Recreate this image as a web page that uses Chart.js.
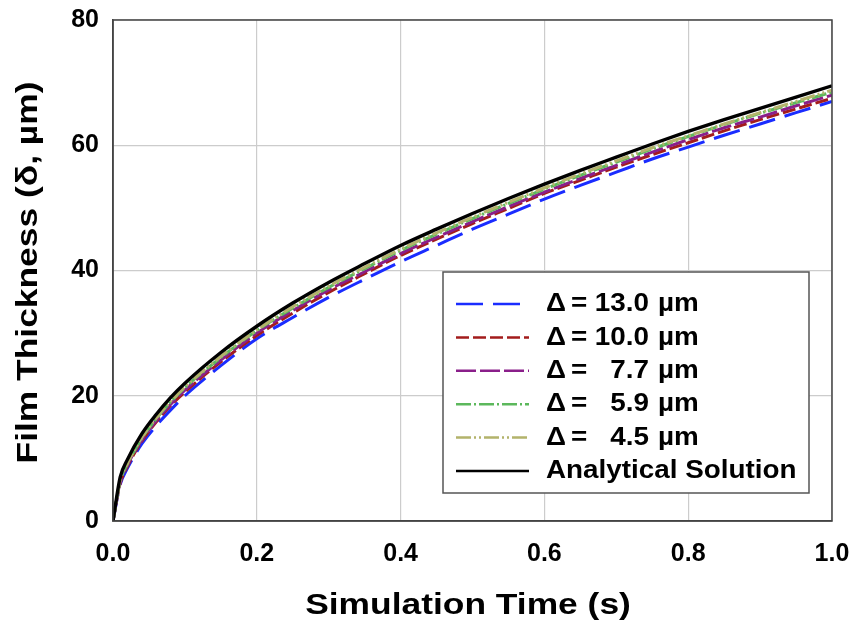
<!DOCTYPE html>
<html>
<head>
<meta charset="utf-8">
<script src="https://cdn.jsdelivr.net/npm/chart.js@4"></script>
<style>
  html, body { margin: 0; padding: 0; background: #fff; }
  #wrap { width: 852px; height: 626px; }
</style>
</head>
<body>
<div id="wrap"><canvas id="filmChart" width="852" height="626"></canvas></div>
<script>
// tempo di simulazione (s)
var times = [0, 0.01, 0.02, 0.04, 0.06, 0.08, 0.1, 0.15, 0.2, 0.25, 0.3, 0.35, 0.4, 0.45, 0.5, 0.55, 0.6, 0.65, 0.7, 0.75, 0.8, 0.85, 0.9, 0.95, 1.0];

// spessore del film (um)
var delta130 = [0, 5.8, 8.4, 12.3, 15.2, 17.7, 20.0, 24.8, 29.1, 32.5, 35.7, 38.6, 41.4, 44.0, 46.6, 49.0, 51.4, 53.6, 55.7, 57.8, 59.7, 61.6, 63.4, 65.2, 67.0];
var delta100 = [0, 6.0, 8.7, 12.7, 15.8, 18.4, 20.6, 25.4, 29.6, 33.2, 36.5, 39.5, 42.4, 45.0, 47.5, 49.9, 52.3, 54.4, 56.5, 58.5, 60.4, 62.3, 64.1, 65.8, 67.5];
var delta77 = [0, 6.2, 8.9, 12.9, 16.0, 18.6, 20.9, 25.7, 30.0, 33.6, 36.9, 39.8, 42.7, 45.3, 47.8, 50.2, 52.5, 54.7, 56.8, 58.9, 60.9, 62.8, 64.5, 66.3, 68.0];
var delta59 = [0, 6.4, 9.1, 13.2, 16.3, 19.0, 21.3, 26.1, 30.4, 34.0, 37.3, 40.3, 43.2, 45.8, 48.3, 50.7, 53.0, 55.2, 57.3, 59.4, 61.4, 63.3, 65.1, 66.8, 68.5];
var delta45 = [0, 6.5, 9.2, 13.3, 16.4, 19.1, 21.4, 26.3, 30.5, 34.2, 37.5, 40.5, 43.4, 46.0, 48.5, 50.9, 53.2, 55.4, 57.5, 59.6, 61.5, 63.4, 65.2, 67.0, 68.8];
var analytical = [0, 7.0, 9.8, 13.9, 17.0, 19.7, 22.0, 26.9, 31.1, 34.8, 38.1, 41.1, 44.0, 46.6, 49.1, 51.5, 53.8, 56.0, 58.1, 60.2, 62.2, 64.1, 65.9, 67.7, 69.5];

var xTicks = [0, 0.2, 0.4, 0.6, 0.8, 1.0];
var yTicks = [0, 20, 40, 60, 80];

var seriesNames = ["13.0", "10.0", "7.7", "5.9", "4.5", "Analytical Solution"];
var seriesColors = ["#1a2cff", "#a31c1c", "#8a1f8a", "#5cb85c", "#b3b36b", "#000000"];
var seriesDashes = [[27, 10], [13, 4], [20, 4], [15, 3, 2, 3], [15, 3, 2, 3, 2, 3], []];

var xTitle = "Simulation Time (s)";
var yTitle = "Film Thickness (\u03b4, \u00b5m)";

var font = "'Liberation Sans', Arial, sans-serif";

function toPoints(values) {
  return values.map((v, i) => ({ x: times[i], y: v }));
}

// testo un po' allargato come nell'originale
function wideText(ctx, text, x, y, stretch) {
  ctx.save();
  ctx.translate(x, y);
  ctx.scale(stretch, 1);
  ctx.fillText(text, 0, 0);
  ctx.restore();
}

// titoli degli assi, bordo e legenda dentro l'area del grafico
var boxedLegend = {
  id: "boxedLegend",
  afterDraw(chart) {
    let ctx = chart.ctx;
    let area = chart.chartArea;
    ctx.save();
    // bordo del grafico
    ctx.strokeStyle = "#444";
    ctx.lineWidth = 1.5;
    ctx.strokeRect(area.left, area.top, area.right - area.left, area.bottom - area.top);

    // titoli
    ctx.fillStyle = "#000";
    ctx.font = "bold 29px " + font;
    ctx.textAlign = "center";
    ctx.textBaseline = "middle";
    wideText(ctx, xTitle, 468, 606, 1.22);
    ctx.save();
    ctx.translate(29, (area.top + area.bottom) / 2 + 2);
    ctx.rotate(-Math.PI / 2);
    wideText(ctx, yTitle, 0, 0, 1.22);
    ctx.restore();

    // legenda
    let bx = 443, by = 272, bw = 366, bh = 221;
    ctx.fillStyle = "#fff";
    ctx.fillRect(bx, by, bw, bh);
    ctx.strokeStyle = "#555";
    ctx.lineWidth = 1.5;
    ctx.strokeRect(bx, by, bw, bh);

    ctx.font = "bold 26px " + font;
    ctx.textBaseline = "middle";
    for (let i = 0; i < seriesNames.length; i++) {
      let y = 304 + i * 33.4;
      ctx.beginPath();
      ctx.setLineDash(seriesDashes[i]);
      ctx.strokeStyle = seriesColors[i];
      ctx.lineWidth = 2.5;
      ctx.moveTo(456, y);
      ctx.lineTo(529, y);
      ctx.stroke();
      ctx.setLineDash([]);
      ctx.fillStyle = "#000";
      if (i == seriesNames.length - 1) {
        ctx.textAlign = "left";
        wideText(ctx, seriesNames[i], 546, y, 1.07);
      } else {
        ctx.textAlign = "left";
        wideText(ctx, "\u0394", 546, y, 1.07);
        wideText(ctx, "=", 571, y, 1.07);
        ctx.textAlign = "right";
        wideText(ctx, seriesNames[i], 649, y, 1.07);
        ctx.textAlign = "left";
        wideText(ctx, "\u00b5m", 658, y, 1.07);
      }
    }
    ctx.restore();
  },
};

var datasets = [delta130, delta100, delta77, delta59, delta45, analytical].map((vals, i) => ({
  label: seriesNames[i],
  data: toPoints(vals),
  borderColor: seriesColors[i],
  backgroundColor: seriesColors[i],
  borderDash: seriesDashes[i],
  borderWidth: i == 5 ? 3.4 : 3,
  cubicInterpolationMode: "monotone",
  order: i == 5 ? 0 : 6 - i,
}));

var ctx = document.getElementById("filmChart");
var filmChart = new Chart(ctx, {
  type: "line",
  data: { datasets: datasets },
  options: {
    responsive: false,
    animation: false,
    layout: { padding: 0 },
    elements: { point: { radius: 0 } },
    plugins: {
      legend: { display: false },
      tooltip: { enabled: false },
    },
    scales: {
      x: {
        type: "linear",
        min: 0,
        max: 1,
        afterBuildTicks: (s) => { s.ticks = xTicks.map((v) => ({ value: v })); },
        afterFit: (s) => {
          s.height = 105;
          s.paddingLeft = 0;
          s.paddingRight = 20;
        },
        ticks: {
          color: "#000",
          font: { family: font, size: 25, weight: "bold" },
          padding: 18,
          callback: (v) => v.toFixed(1),
        },
        grid: { color: "#cccccc", lineWidth: 1.2, drawTicks: false },
        border: { color: "#444", width: 1.5 },
      },
      y: {
        min: 0,
        max: 80,
        afterBuildTicks: (s) => { s.ticks = yTicks.map((v) => ({ value: v })); },
        afterFit: (s) => {
          s.width = 113;
          s.paddingTop = 20;
          s.paddingBottom = 0;
        },
        ticks: {
          color: "#000",
          font: { family: font, size: 25, weight: "bold" },
          padding: 14,
        },
        grid: { color: "#cccccc", lineWidth: 1.2, drawTicks: false },
        border: { color: "#444", width: 1.5 },
      },
    },
  },
  plugins: [boxedLegend],
});
</script>
</body>
</html>
